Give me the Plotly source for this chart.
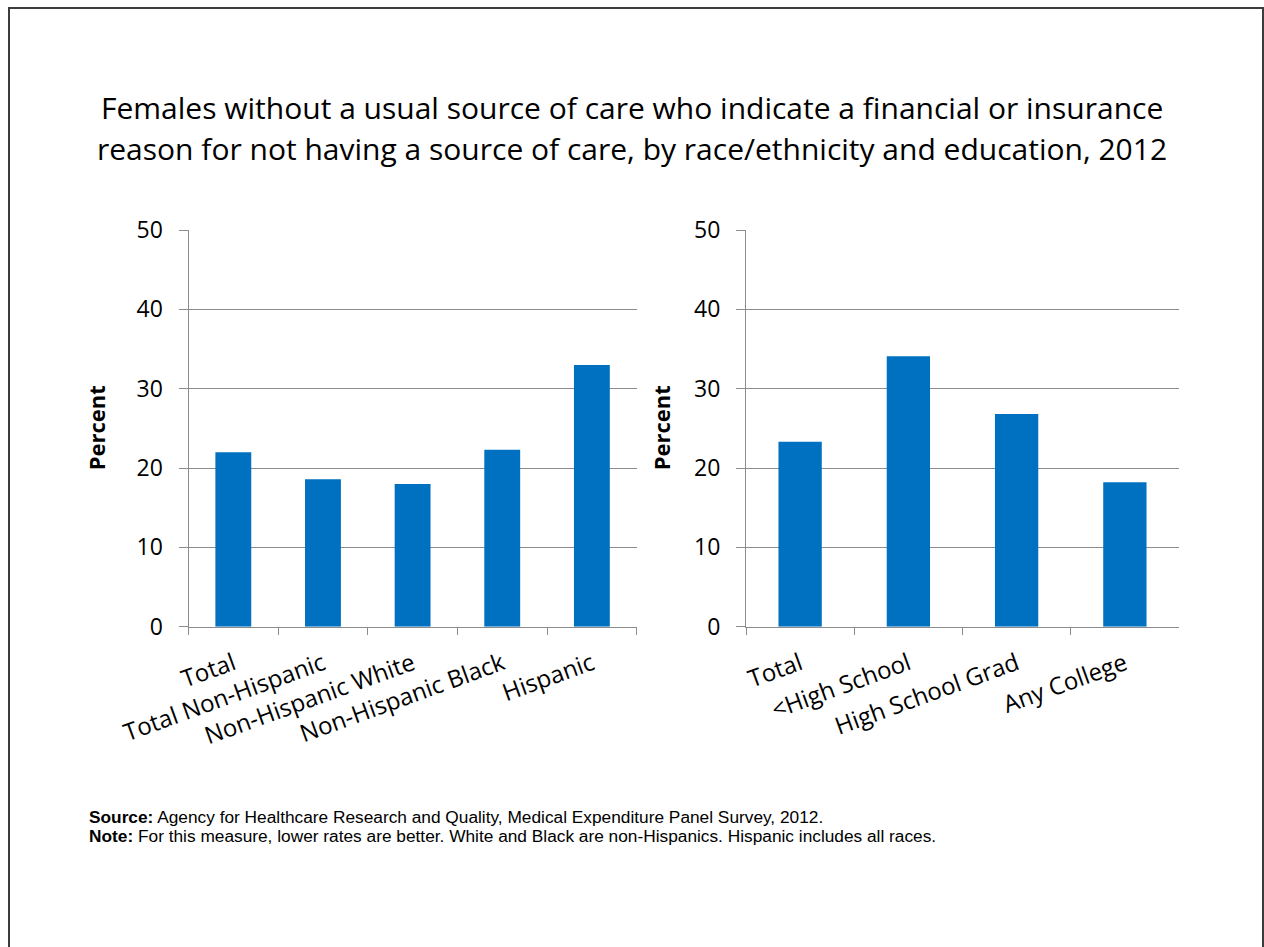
import plotly.graph_objects as go

# Data: percent of females without a usual source of care citing a financial/insurance reason, 2012
race_categories = ["Total", "Total Non-Hispanic", "Non-Hispanic White", "Non-Hispanic Black", "Hispanic"]
race_values = [22.0, 18.6, 18.0, 22.3, 33.0]

edu_categories = ["Total", "&lt;High School", "High School Grad", "Any College"]
edu_values = [23.3, 34.1, 26.8, 18.2]

y_ticks = [0, 10, 20, 30, 40, 50]

title_lines = [
    "Females without a usual source of care who indicate a financial or insurance",
    "reason for not having a source of care, by race/ethnicity and education, 2012",
]
source_text = "<b>Source:</b> Agency for Healthcare Research and Quality, Medical Expenditure Panel Survey, 2012."
note_text = "<b>Note:</b> For this measure, lower rates are better. White and Black are non-Hispanics. Hispanic includes all races."

W, H = 1264, 947
BAR = "#0070C0"
GRID = "#8C8C8C"
FONT = "Open Sans, Noto Sans, sans-serif"


def px_x(v):
    return v / W


def px_y(v):
    return 1 - v / H


fig = go.Figure()
fig.add_trace(go.Bar(x=race_categories, y=race_values, marker_color=BAR,
                     marker_line_width=0, xaxis="x", yaxis="y", showlegend=False))
fig.add_trace(go.Bar(x=edu_categories, y=edu_values, marker_color=BAR,
                     marker_line_width=0, xaxis="x2", yaxis="y2", showlegend=False))

y_top, y_bot = 230, 626.7

xaxis_common = dict(
    type="category", showgrid=False, showline=True, linecolor=GRID, linewidth=1,
    ticks="outside", tickson="boundaries", ticklen=7, tickcolor=GRID,
    tickangle=-20, tickfont=dict(family=FONT, size=24, color="#000000"),
    ticklabelstandoff=13, fixedrange=True, automargin=False,
)
yaxis_common = dict(
    range=[0, 50], tickvals=y_ticks, showgrid=True, gridcolor=GRID, gridwidth=1,
    showline=True, linecolor=GRID, linewidth=1, ticks="outside", ticklen=9,
    tickcolor=GRID, tickfont=dict(family=FONT, size=23, color="#000000"),
    ticklabelstandoff=11, zeroline=False, fixedrange=True, automargin=False,
)

fig.update_layout(
    width=W, height=H,
    margin=dict(l=0, r=0, t=0, b=0, autoexpand=False),
    paper_bgcolor="white", plot_bgcolor="white",
    bargap=0.6,
    xaxis=dict(domain=[px_x(188.5), px_x(636.7)], anchor="y", **xaxis_common),
    yaxis=dict(domain=[px_y(y_bot), px_y(y_top)], anchor="x", **yaxis_common),
    xaxis2=dict(domain=[px_x(746), px_x(1179)], anchor="y2", **xaxis_common),
    yaxis2=dict(domain=[px_y(y_bot), px_y(y_top)], anchor="x2", **yaxis_common),
    showlegend=False,
)

annotations = []
for line, yc in zip(title_lines, [107, 149]):
    annotations.append(dict(
        text=line, x=px_x(632), y=px_y(yc), xref="paper", yref="paper",
        xanchor="center", yanchor="middle", showarrow=False,
        font=dict(family=FONT, size=30, color="#000000"),
    ))

for xc in [96, 661]:
    annotations.append(dict(
        text="<b>Percent</b>", x=px_x(xc), y=px_y((y_top + y_bot) / 2),
        xref="paper", yref="paper", xanchor="center", yanchor="middle",
        textangle=-90, showarrow=False,
        font=dict(family=FONT, size=22, color="#000000"),
    ))

for txt, yc in [(source_text, 817), (note_text, 836)]:
    annotations.append(dict(
        text=txt, x=px_x(87), y=px_y(yc), xref="paper", yref="paper",
        xanchor="left", yanchor="middle", showarrow=False, align="left",
        font=dict(family="Liberation Sans, Arial, sans-serif", size=17.3, color="#000000"),
    ))

fig.update_layout(annotations=annotations)

# Slide frame
fig.add_shape(type="rect", xref="paper", yref="paper",
              x0=px_x(9), x1=px_x(1263), y0=px_y(960), y1=px_y(8),
              line=dict(color="#3C3C3C", width=2), fillcolor="rgba(0,0,0,0)", layer="above")

fig.write_html("out.html")
